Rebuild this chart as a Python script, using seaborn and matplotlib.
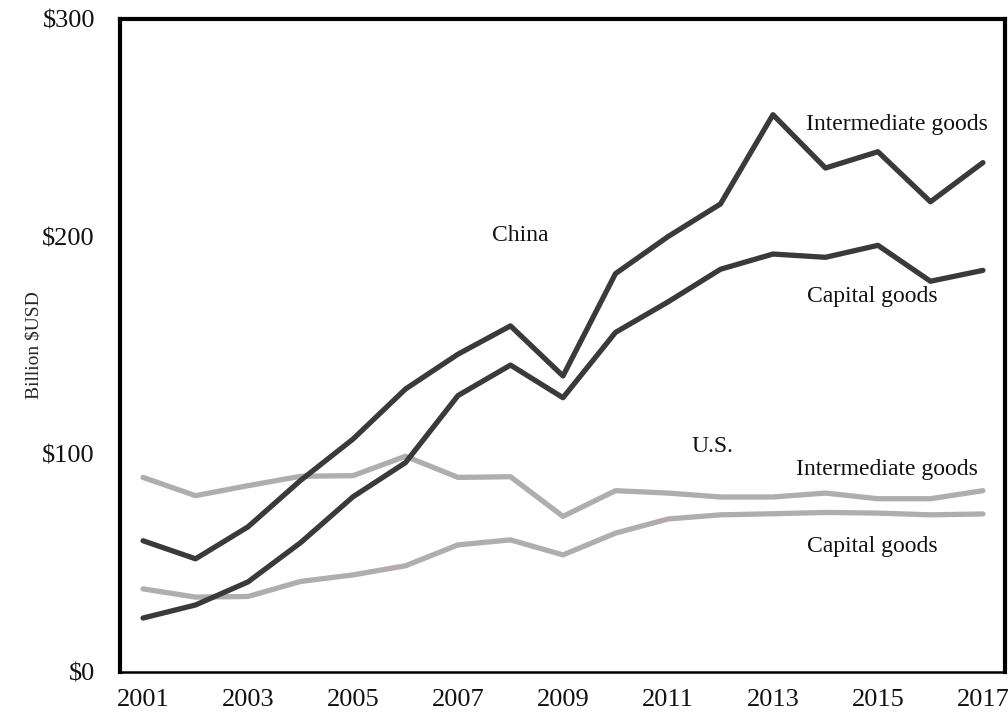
import numpy as np
import pandas as pd
import matplotlib
matplotlib.use("Agg")
import matplotlib.pyplot as plt
import seaborn as sns

# Data (billion USD)
years = list(range(2001, 2018))
china_intermediate = [60.3, 52.0, 66.7, 88.0, 107.0, 130.0, 146.0, 159.0, 136.0,
                      183.0, 200.0, 215.0, 256.0, 231.5, 239.0, 216.0, 234.0]
china_capital = [24.8, 30.8, 41.4, 59.4, 80.5, 96.2, 127.0, 141.0, 126.0,
                 156.0, 170.0, 185.0, 192.0, 190.5, 196.0, 179.5, 184.5]
us_intermediate = [89.4, 81.0, 85.6, 89.9, 90.2, 99.1, 89.4, 89.7, 71.5,
                   83.3, 82.2, 80.4, 80.4, 82.2, 79.6, 79.6, 83.3]
us_capital = [38.2, 34.4, 34.7, 41.6, 44.6, 48.8, 58.4, 60.7, 53.8,
              63.8, 70.3, 72.2, 72.7, 73.3, 73.0, 72.2, 72.6]

series_names = ["US capital", "US intermediate", "China capital", "China intermediate"]
series_values = [us_capital, us_intermediate, china_capital, china_intermediate]
series_colors = ["#b1adad", "#b1adad", "#3a3a3a", "#3a3a3a"]

y_ticks = [0, 100, 200, 300]
y_tick_labels = ["$0", "$100", "$200", "$300"]
x_ticks = list(range(2001, 2018, 2))

# label text, x (year), y (value)
annotations = [
    ("Intermediate goods", 2015.36, 251.3),
    ("China", 2008.18, 200.6),
    ("Capital goods", 2014.89, 172.6),
    ("U.S.", 2011.84, 103.5),
    ("Intermediate goods", 2015.17, 93.0),
    ("Capital goods", 2014.9, 57.5),
]

df = pd.DataFrame({
    "year": years * len(series_names),
    "value": np.concatenate(series_values),
    "series": np.repeat(series_names, len(years)),
})

sns.set_style("white")
plt.rcParams["font.family"] = ["Liberation Serif", "DejaVu Serif"]

fig = plt.figure(figsize=(10.08, 7.14), dpi=100)
ax = fig.add_axes([0.119, 0.0588, 0.878, 0.9147])

sns.lineplot(data=df, x="year", y="value", hue="series", hue_order=series_names,
             palette=dict(zip(series_names, series_colors)), linewidth=3.8,
             legend=False, ax=ax)

for text, x, y in annotations:
    ax.text(x, y, text, ha="center", va="center", fontsize=17, color="#111111")

ax.set_xlim(2000.56, 2017.42)
ax.set_ylim(0, 300)
ax.set_yticks(y_ticks)
ax.set_yticklabels(y_tick_labels)
ax.set_xticks(x_ticks)
ax.set_xlabel("")
ax.set_ylabel("Billion $USD", fontsize=14, labelpad=0)
ax.tick_params(axis="both", length=0, labelsize=19, colors="#111111")
ax.tick_params(axis="y", pad=18)
ax.tick_params(axis="x", pad=12)

for side in ["left", "top", "right"]:
    ax.spines[side].set_linewidth(3.0)
    ax.spines[side].set_color("black")
ax.spines["bottom"].set_linewidth(1.8)
ax.spines["bottom"].set_color("black")

fig.savefig("out.png", dpi=100)
